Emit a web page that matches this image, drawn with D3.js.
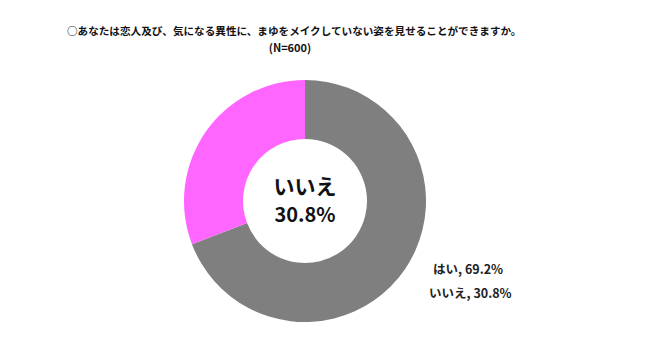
<!DOCTYPE html>
<html>
<head>
<meta charset="utf-8">
<script src="https://cdn.jsdelivr.net/npm/d3@7"></script>
<style>
  body { margin: 0; background: #fff; }
  text { font-family: "Noto Sans CJK JP", "Noto Sans", sans-serif; }
</style>
</head>
<body>
<div id="chart"></div>
<script>
// 回答データ
const categories = ['はい', 'いいえ'];
const values = [69.2, 30.8];
const colors = ['#7f7f7f', '#ff66ff'];
const title = '○あなたは恋人及び、気になる異性に、まゆをメイクしていない姿を見せることができますか。';
const subtitle = '(N=600)';

const width = 650, height = 352;
const cx = 305, cy = 201, outerR = 121, innerR = 62;

const svg = d3.select('#chart')
  .append('svg')
  .attr('width', width)
  .attr('height', height);

svg.append('text')
  .attr('x', 67)
  .attr('y', 35)
  .attr('font-size', 10.6)
  .attr('font-weight', 'bold')
  .attr('fill', '#111')
  .text(title);

svg.append('text')
  .attr('x', 290)
  .attr('y', 52)
  .attr('text-anchor', 'middle')
  .attr('font-size', 11)
  .attr('font-weight', 'bold')
  .attr('fill', '#111')
  .text(subtitle);

const data = categories.map((c, i) => ({ name: c, value: values[i], color: colors[i] }));

const pie = d3.pie().value(d => d.value).sort(null);
const arc = d3.arc().innerRadius(innerR).outerRadius(outerR);

const g = svg.append('g').attr('transform', `translate(${cx},${cy})`);
g.selectAll('path')
  .data(pie(data))
  .join('path')
  .attr('d', arc)
  .attr('fill', d => d.data.color);

// 中央のラベル
const focus = data[1];
g.append('text')
  .attr('text-anchor', 'middle')
  .attr('y', -7)
  .attr('font-size', 21)
  .attr('font-weight', 'bold')
  .attr('fill', '#111')
  .text(focus.name);
g.append('text')
  .attr('text-anchor', 'middle')
  .attr('y', 21)
  .attr('font-size', 20)
  .attr('font-weight', 'bold')
  .attr('fill', '#111')
  .text(d3.format('.1f')(focus.value) + '%');

// 凡例風のラベル
svg.append('g')
  .selectAll('text')
  .data(data)
  .join('text')
  .attr('x', (d, i) => i === 0 ? 433 : 429)
  .attr('y', (d, i) => 274 + i * 24)
  .attr('font-size', 12.5)
  .attr('font-weight', 'bold')
  .attr('fill', '#222')
  .text(d => `${d.name}, ${d3.format('.1f')(d.value)}%`);
</script>
</body>
</html>
